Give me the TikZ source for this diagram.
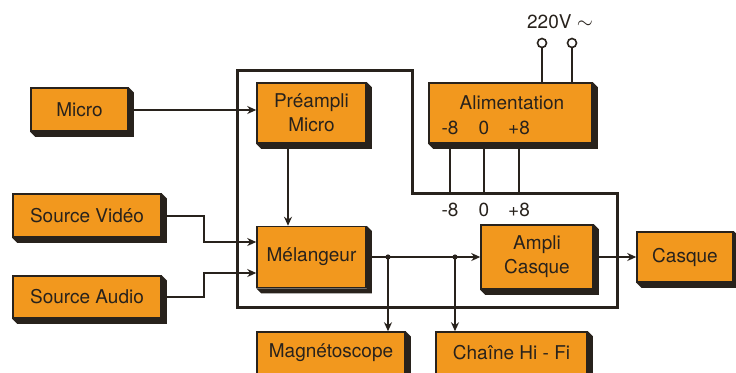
\documentclass[tikz,border=0pt]{standalone}
\usepackage{fontspec}
\setmainfont{TeX Gyre Heros}
\usepackage{xcolor}
\usepackage{tikz}
\usetikzlibrary{arrows.meta}
\definecolor{boxorange}{RGB}{242,152,30}
\definecolor{ink}{RGB}{40,34,28}

\begin{document}
\begin{tikzpicture}[x=1bp,y=-1bp,
    box/.style={draw=ink, line width=1.5bp, fill=boxorange, inner sep=0pt,
      align=center, text=ink, font=\fontsize{19bp}{24bp}\selectfont},
    sig/.style={draw=ink, line width=2bp, -{Stealth[length=9bp,width=8bp]}},
    wire/.style={draw=ink, line width=2bp},
    frame/.style={draw=ink, line width=3bp},
    lbl/.style={text=ink, font=\fontsize{19bp}{22bp}\selectfont, inner sep=0pt}]
  \useasboundingbox (0,0) rectangle (736,372);
  % Frame
  \draw[frame] (237,70) -- (412,70) -- (412,193) -- (617,193) -- (617,307) -- (237,307) -- cycle;
  % Blocks
  \node[box, minimum width=97bp, minimum height=43bp] (micro) at (79.5,109.5) {Micro};
  \node[box, minimum width=109bp, minimum height=60bp] (preampli) at (311.5,113) {Préampli\\Micro};
  \node[box, minimum width=163bp, minimum height=60bp] (alim) at (510.5,113) {};
  \node[box, minimum width=148bp, minimum height=43bp] (svideo) at (87,215.5) {Source Vidéo};
  \node[box, minimum width=148bp, minimum height=42bp] (saudio) at (87,297) {Source Audio};
  \node[box, minimum width=109bp, minimum height=61bp] (melang) at (311.5,257) {Mélangeur};
  \node[box, minimum width=112bp, minimum height=64bp] (ampli) at (537,257) {Ampli\\Casque};
  \node[box, minimum width=96bp, minimum height=50bp] (casque) at (685,257) {Casque};
  \node[box, minimum width=148bp, minimum height=42bp] (magneto) at (331,353) {Magnétoscope};
  \node[box, minimum width=151bp, minimum height=42bp] (chaine) at (511.5,353) {Chaîne Hi - Fi};
  % Shadows, right and bottom of each block
  \foreach \blk in {micro,preampli,alim,svideo,saudio,melang,ampli,casque,magneto,chaine}
    \fill[ink] (\blk.north east) -- ([shift={(5,5)}]\blk.north east) -- ([shift={(5,5)}]\blk.south east)
      -- ([shift={(5,5)}]\blk.south west) -- (\blk.south west) -- (\blk.south east) -- cycle;
  % Alimentation texts
  \node[lbl] (alimtxt) at (512,103) {Alimentation};
  \node[lbl] (am8) at (450,128) {-8};
  \node[lbl] (a0) at (484,128) {0};
  \node[lbl] (ap8) at (519,128) {+8};
  % Mains terminals
  \node[lbl] (mains) at (560,22) {220V $\sim$};
  \node[circle, draw=ink, line width=1.6bp, minimum size=9bp, inner sep=0pt] (t1) at (542,43) {};
  \node[circle, draw=ink, line width=1.6bp, minimum size=9bp, inner sep=0pt] (t2) at (572,43) {};
  \draw[wire] (t1) -- (t1 |- alim.north);
  \draw[wire] (t2) -- (t2 |- alim.north);
  % Supply rails down to the frame
  \coordinate (p1) at (450,193);
  \coordinate (p2) at (484,193);
  \coordinate (p3) at (519,193);
  \foreach \p in {p1,p2,p3} \draw[wire] ([yshift=-5bp]alim.south -| \p) -- (\p);
  \node[lbl] (bm8) at (450,210) {-8};
  \node[lbl] (b0) at (484,210) {0};
  \node[lbl] (bp8) at (519,210) {+8};
  % Signal paths
  \draw[sig] ([xshift=5bp]micro.east |- 0,110) -- (preampli.west |- 0,110);
  \draw[sig] ([xshift=-23.5bp,yshift=-5bp]preampli.south) -- ([xshift=-23.5bp]melang.north);
  \draw[sig] ([xshift=5bp]svideo.east) -- ++(37,0) |- ([yshift=15bp]melang.west);
  \draw[sig] ([xshift=5bp]saudio.east) -- ++(37,0) |- ([yshift=-16bp]melang.west);
  \draw[sig] ([xshift=5bp]melang.east) -- (ampli.west);
  \draw[sig] ([xshift=5bp]ampli.east) -- (casque.west);
  % Taps
  \coordinate (j1) at (388,257);
  \coordinate (j2) at (455,257);
  \fill[ink] (j1) circle (2.6);
  \fill[ink] (j2) circle (2.6);
  \draw[sig] (j1) -- (j1 |- magneto.north);
  \draw[sig] (j2) -- (j2 |- chaine.north);
\end{tikzpicture}
\end{document}
